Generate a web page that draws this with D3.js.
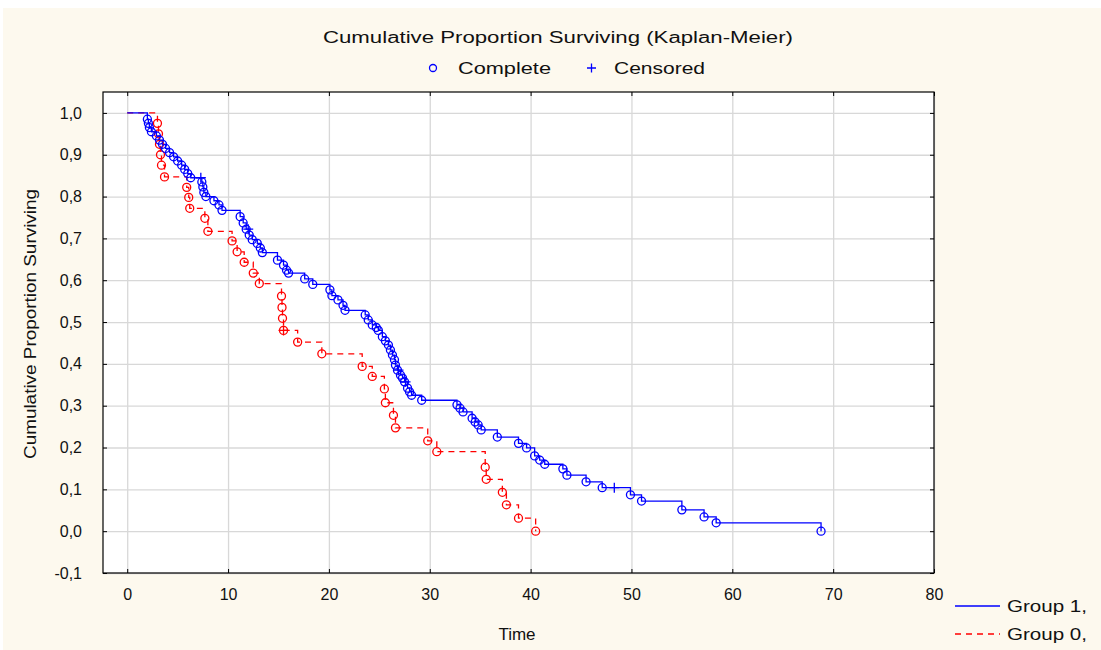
<!DOCTYPE html>
<html>
<head>
    <meta charset="utf-8">
    <script src="https://d3js.org/d3.v7.min.js"></script>
</head>
<style>
body { margin: 0; background: #ffffff; }
text { font-family: "Liberation Sans", Arial, sans-serif; fill: #111; }
</style>
<body>
<div id="chart"></div>
<script>
    // Group 1 (solid blue): event times, survival after each event, censored flag
    var g1Time = [0, 2.0, 2.1, 2.2, 2.4, 2.9, 3.2, 3.5, 3.8, 4.2, 4.6, 5.0, 5.4, 5.7, 6.0, 6.3, 7.3,
        7.4, 7.5, 7.6, 7.8, 8.6, 9.1, 9.4, 11.2, 11.5, 11.8, 12.0, 12.1, 12.4, 12.9, 13.2, 13.4,
        14.9, 15.5, 15.8, 16.0, 17.6, 18.4, 20.1, 20.3, 20.9, 21.4, 21.6, 23.6, 23.9, 24.3, 24.7,
        24.9, 25.3, 25.6, 25.9, 26.1, 26.3, 26.5, 26.6, 26.8, 26.9, 27.1, 27.3, 27.5, 27.6, 27.8,
        28.0, 28.2, 29.2, 32.7, 33.0, 33.3, 34.2, 34.5, 34.8, 35.1, 36.7, 38.8, 39.6, 40.4, 40.9,
        41.4, 43.2, 43.6, 45.5, 47.1, 48.3, 49.9, 51.0, 55.0, 57.2, 58.4, 68.8];
    var g1Surv = [1, 0.985, 0.975, 0.965, 0.955, 0.945, 0.935, 0.925, 0.915, 0.905, 0.895, 0.885,
        0.875, 0.865, 0.855, 0.845, 0.845, 0.835, 0.823, 0.81, 0.8, 0.79, 0.78, 0.767, 0.752,
        0.737, 0.722, 0.722, 0.708, 0.697, 0.688, 0.677, 0.666, 0.648, 0.636, 0.624, 0.617,
        0.603, 0.59, 0.577, 0.563, 0.553, 0.54, 0.528, 0.517, 0.505, 0.493, 0.487, 0.48, 0.465,
        0.455, 0.445, 0.433, 0.421, 0.41, 0.397, 0.385, 0.385, 0.373, 0.366, 0.357, 0.357, 0.342,
        0.333, 0.325, 0.313, 0.302, 0.294, 0.285, 0.27, 0.261, 0.254, 0.242, 0.225, 0.21, 0.199,
        0.18, 0.17, 0.16, 0.149, 0.134, 0.118, 0.104, 0.104, 0.087, 0.072, 0.051, 0.034, 0.02, 0];
    var g1Cens = [0, 0, 0, 0, 0, 0, 0, 0, 0, 0, 0, 0, 0, 0, 0, 0, 1,
        0, 0, 0, 0, 0, 0, 0, 0, 0, 0, 1, 0, 0, 0, 0, 0,
        0, 0, 0, 0, 0, 0, 0, 0, 0, 0, 0, 0, 0, 0, 0,
        0, 0, 0, 0, 0, 0, 0, 0, 0, 1, 0, 0, 0, 1, 0,
        0, 0, 0, 0, 0, 0, 0, 0, 0, 0, 0, 0, 0, 0, 0,
        0, 0, 0, 0, 0, 1, 0, 0, 0, 0, 0, 0];

    // Group 0 (dashed red)
    var g0Time = [0, 3.0, 3.1, 3.2, 3.3, 3.4, 3.7, 5.9, 6.1, 6.2, 7.7, 8.0, 10.4, 10.9, 11.6, 12.5,
        13.1, 15.3, 15.35, 15.4, 15.5, 15.5, 16.9, 19.3, 23.3, 24.3, 25.5, 25.6, 26.4, 26.6, 29.8,
        30.7, 35.5, 35.6, 37.2, 37.6, 38.8, 40.5];
    var g0Surv = [1, 0.975, 0.95, 0.925, 0.9, 0.875, 0.847, 0.822, 0.798, 0.772, 0.748, 0.717,
        0.694, 0.668, 0.643, 0.617, 0.592, 0.562, 0.535, 0.509, 0.48, 0.48, 0.452, 0.424, 0.394,
        0.37, 0.34, 0.307, 0.277, 0.247, 0.216, 0.19, 0.153, 0.124, 0.093, 0.063, 0.031, 0];
    var g0Cens = [0, 0, 0, 0, 0, 0, 0, 0, 0, 0, 0, 0, 0, 0, 0, 0,
        0, 0, 0, 0, 0, 1, 0, 0, 0, 0, 0, 0, 0, 0, 0,
        0, 0, 0, 0, 0, 0, 0];

    var xTicks = [0, 10, 20, 30, 40, 50, 60, 70, 80];
    var yTicks = [-0.1, 0, 0.1, 0.2, 0.3, 0.4, 0.5, 0.6, 0.7, 0.8, 0.9, 1.0];

    var W = 1101, H = 650;
    var margin = {top: 92, right: 167, bottom: 77, left: 103},
        width = W - margin.left - margin.right,
        height = H - margin.top - margin.bottom;

    var svg = d3.select("#chart").append("svg")
        .attr("width", W)
        .attr("height", H);

    // cream background with a thin white border on top/left
    svg.append("rect").attr("x", 3).attr("y", 8).attr("width", W - 3).attr("height", H - 8)
        .attr("fill", "#fdf9ee");

    var x = d3.scaleLinear().domain([-2.4, 80]).range([0, width]);
    var y = d3.scaleLinear().domain([-0.1, 1.05]).range([height, 0]);

    var g = svg.append("g")
        .attr("transform", "translate(" + margin.left + "," + margin.top + ")");

    g.append("rect").attr("width", width).attr("height", height).attr("fill", "#ffffff");

    // gridlines
    var gridX = g.append("g").attr("transform", "translate(0," + height + ")")
        .call(d3.axisBottom(x).tickValues(xTicks).tickSize(-height).tickFormat(""));
    var gridY = g.append("g")
        .call(d3.axisLeft(y).tickValues(yTicks).tickSize(-width).tickFormat(""));
    [gridX, gridY].forEach(function(a) {
        a.select(".domain").remove();
        a.selectAll("line").attr("stroke", "#d8d8d8").attr("stroke-width", 1.3);
    });

    // decimal comma, plain hyphen for the minus sign
    var locale = d3.formatLocale({decimal: ",", thousands: ".", grouping: [3], currency: ["", ""], minus: "-"});
    var fmt = locale.format(".1f");

    // axes with inward ticks
    var axL = g.append("g").call(d3.axisLeft(y).tickValues(yTicks).tickSize(-4).tickPadding(21).tickFormat(fmt));
    var axB = g.append("g").attr("transform", "translate(0," + height + ")")
        .call(d3.axisBottom(x).tickValues(xTicks).tickSize(-4).tickPadding(16).tickFormat(d3.format("d")));
    var axT = g.append("g").call(d3.axisTop(x).tickValues(xTicks).tickSize(-4).tickFormat(""));
    var axR = g.append("g").attr("transform", "translate(" + width + ",0)")
        .call(d3.axisRight(y).tickValues(yTicks).tickSize(-4).tickFormat(""));
    [axL, axB, axT, axR].forEach(function(a) {
        a.select(".domain").remove();
        a.selectAll("line").attr("stroke", "#000");
        a.selectAll("text").attr("font-size", "16px").attr("fill", "#111")
            .style("font-family", "'Liberation Sans', Arial, sans-serif");
    });

    g.append("rect").attr("width", width).attr("height", height)
        .attr("fill", "none").attr("stroke", "#000").attr("stroke-width", 1.2);

    // survival curves
    function series(times, surv, cens) {
        return times.map(function(t, i) { return {t: t, s: surv[i], c: cens[i]}; });
    }
    var groups = [
        {name: "Group 0,", data: series(g0Time, g0Surv, g0Cens), color: "#ff0000", dash: "6,5"},
        {name: "Group 1,", data: series(g1Time, g1Surv, g1Cens), color: "#0000ff", dash: null}
    ];

    var line = d3.line().x(d => x(d.t)).y(d => y(d.s)).curve(d3.curveStepAfter);

    var plot = g.append("g");
    groups.forEach(function(gr) {
        plot.append("path")
            .datum(gr.data)
            .attr("d", line)
            .attr("fill", "none")
            .attr("stroke", gr.color)
            .attr("stroke-width", 1.3)
            .attr("stroke-dasharray", gr.dash);
    });
    groups.forEach(function(gr) {
        var pts = gr.data.filter((d, i) => i > 0);
        plot.selectAll(null).data(pts.filter(d => !d.c)).enter().append("circle")
            .attr("cx", d => x(d.t)).attr("cy", d => y(d.s)).attr("r", 4)
            .attr("fill", "none").attr("stroke", gr.color).attr("stroke-width", 1.3);
        plot.selectAll(null).data(pts.filter(d => d.c)).enter().append("path")
            .attr("d", d => "M" + (x(d.t) - 5) + "," + y(d.s) + "h10M" + x(d.t) + "," + (y(d.s) - 5) + "v10")
            .attr("stroke", gr.color).attr("stroke-width", 1.3);
    });

    // title and marker legend
    svg.append("text").attr("x", 323).attr("y", 43).attr("font-size", "16px")
        .attr("textLength", 470).attr("lengthAdjust", "spacingAndGlyphs")
        .text("Cumulative Proportion Surviving (Kaplan-Meier)");
    svg.append("circle").attr("cx", 433).attr("cy", 68).attr("r", 3.5)
        .attr("fill", "none").attr("stroke", "#0000ff").attr("stroke-width", 1.3);
    svg.append("text").attr("x", 458).attr("y", 74).attr("font-size", "16px")
        .attr("textLength", 93).attr("lengthAdjust", "spacingAndGlyphs").text("Complete");
    svg.append("path").attr("d", "M587,68h9M591.5,63.5v9").attr("stroke", "#0000ff").attr("stroke-width", 1.3);
    svg.append("text").attr("x", 614).attr("y", 74).attr("font-size", "16px")
        .attr("textLength", 91).attr("lengthAdjust", "spacingAndGlyphs").text("Censored");

    // axis titles
    svg.append("text").attr("x", 517).attr("y", 640).attr("font-size", "17px")
        .attr("text-anchor", "middle").text("Time");
    svg.append("text").attr("transform", "translate(36,324) rotate(-90)")
        .attr("font-size", "16px").attr("text-anchor", "middle")
        .attr("textLength", 270).attr("lengthAdjust", "spacingAndGlyphs")
        .text("Cumulative Proportion Surviving");

    // group legend, bottom right
    var leg = svg.append("g");
    [groups[1], groups[0]].forEach(function(gr, i) {
        var ly = 606 + i * 28;
        leg.append("line").attr("x1", 955).attr("x2", 1000).attr("y1", ly).attr("y2", ly)
            .attr("stroke", gr.color).attr("stroke-width", 1.3).attr("stroke-dasharray", gr.dash);
        leg.append("text").attr("x", 1007).attr("y", ly + 6).attr("font-size", "16px")
            .attr("textLength", 80).attr("lengthAdjust", "spacingAndGlyphs").text(gr.name);
    });
</script>
</body>
</html>
